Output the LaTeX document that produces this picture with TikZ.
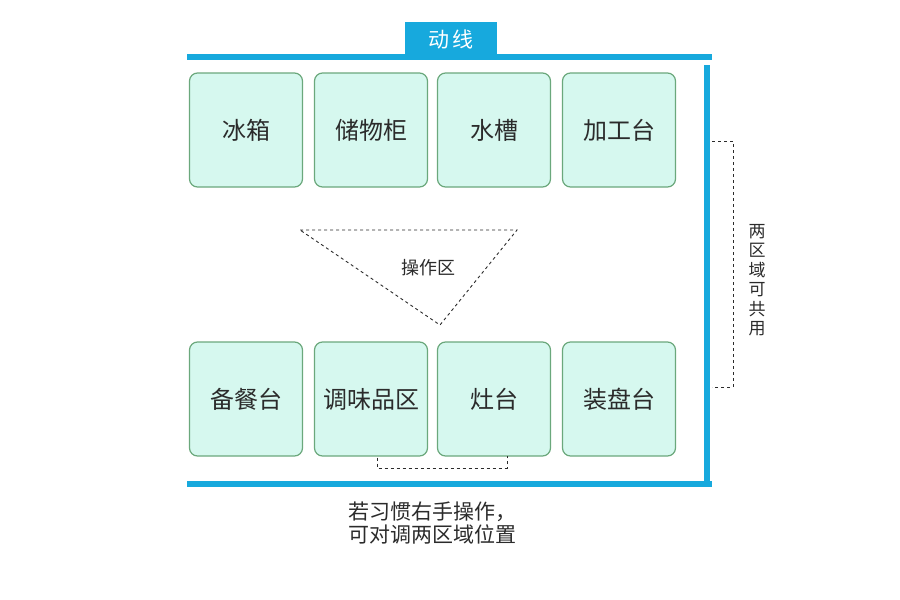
\documentclass[tikz,border=0pt]{standalone}
\usepackage{fontspec}
\newfontfamily\cjk{Noto Sans CJK SC}
\definecolor{lineblue}{HTML}{17A9DD}
\definecolor{boxfill}{HTML}{D6F8EF}
\definecolor{boxedge}{HTML}{6BA87C}
\definecolor{txt}{HTML}{2B2B2B}
\begin{document}
\begin{tikzpicture}[x=1pt,y=-1pt,
  zone/.style={draw=boxedge,line width=1.2pt,fill=boxfill,rounded corners=8pt,minimum width=113pt,minimum height=114pt,font=\cjk\fontsize{24}{28}\selectfont,text=txt},
  lbl/.style={font=\cjk\fontsize{18}{21}\selectfont,text=txt},
  dsh/.style={dashed,draw=txt,line width=0.9pt}]
\useasboundingbox (0,0) rectangle (900,600);
\fill[lineblue] (187,54) rectangle (712,60);
\fill[lineblue] (704,65) rectangle (710,487);
\fill[lineblue] (187,481) rectangle (712,487);
\node[fill=lineblue,minimum width=92pt,minimum height=35pt,inner sep=0pt,font=\cjk\fontsize{21}{24}\selectfont,text=white] (tab) at (451,39) {动\,线};
\foreach \n/\x/\t in {a/246/冰箱,b/371/储物柜,c/494/水槽,d/619/加工台}
  \node[zone] (\n) at (\x,130) {\t};
\foreach \n/\x/\t in {e/246/备餐台,f/371/调味品区,g/494/灶台,h/619/装盘台}
  \node[zone] (\n) at (\x,399) {\t};
\draw[dsh] (300,230) coordinate (t1) -- (517,230) coordinate (t2) -- (440,325) coordinate (t3) -- cycle;
\node[lbl] (op) at (428,268) {操作区};
\coordinate (r1) at (712,141); \coordinate (r2) at (733,141);
\coordinate (r3) at (733,387); \coordinate (r4) at (712,387);
\draw[dsh] (r1) -- (r2) -- (r3) -- (r4);
\node[lbl,align=center,font=\cjk\fontsize{17}{19.5}\selectfont] (share) at (757,280) {两\\区\\域\\可\\共\\用};
\draw[dsh] (f.south -| 377,0) ++(0,1) -- (377,468) -- (507,468) -- (507,456);
\node[lbl,align=left,font=\cjk\fontsize{21}{23}\selectfont] (note) at (432,523) {若习惯右手操作，\\可对调两区域位置};
\end{tikzpicture}
\end{document}
